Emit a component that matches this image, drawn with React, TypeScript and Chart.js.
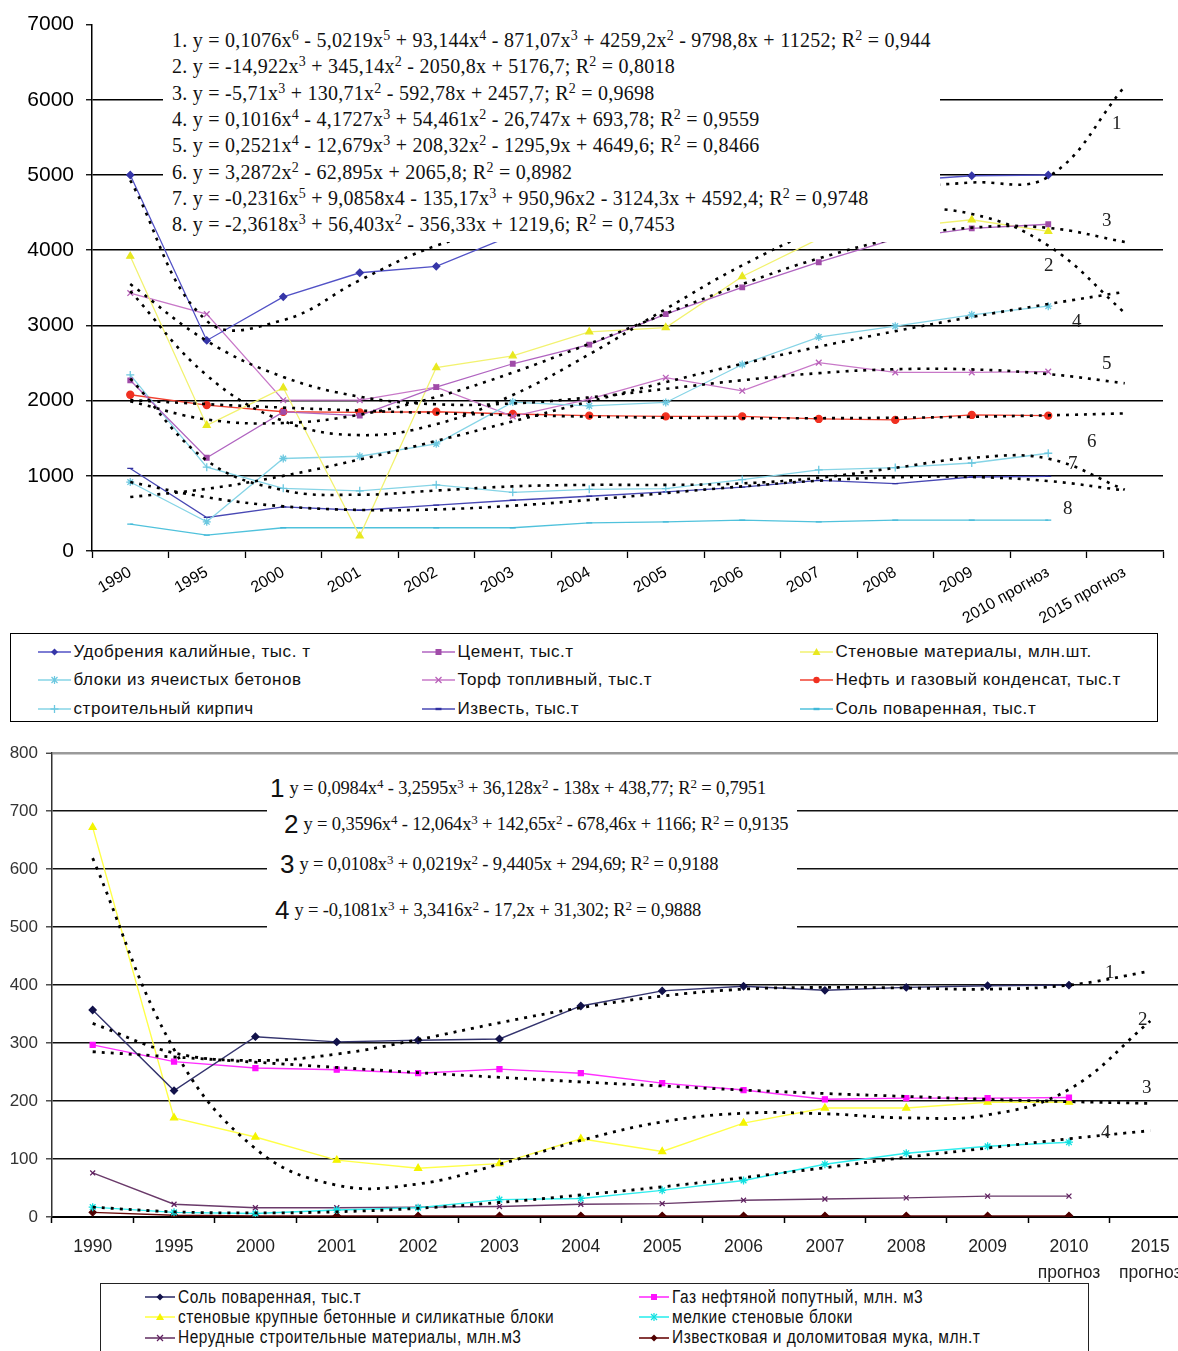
import React, { useEffect, useRef } from "react";
import Chart from "chart.js/auto";

// ---------- top chart ----------
const topLabels = [
  "1990", "1995", "2000", "2001", "2002", "2003", "2004", "2005",
  "2006", "2007", "2008", "2009", "2010 прогноз", "2015 прогноз",
];
const topYTicks = [0, 1000, 2000, 3000, 4000, 5000, 6000, 7000];

const udobreniya = [5000, 2800, 3380, 3700, 3785, 4200, 4400, 4600, 4750, 4850, 4920, 4990, 5000];
const cement = [2270, 1240, 1850, 1800, 2180, 2490, 2745, 3150, 3505, 3840, 4150, 4290, 4345];
const stenovye = [3920, 1670, 2170, 200, 2440, 2595, 2915, 2970, 3650, 4150, 4300, 4405, 4250];
const bloki = [917, 388, 1230, 1260, 1425, 1980, 1930, 1975, 2480, 2845, 2990, 3140, 3255];
const torf = [3430, 3150, 2005, 2005, 2180, 1790, 2020, 2305, 2130, 2505, 2375, 2375, 2385];
const neft = [2078, 1940, 1852, 1843, 1852, 1822, 1800, 1790, 1790, 1756, 1743, 1809, 1800];
const kirpich = [2342, 1115, 834, 800, 880, 780, 820, 830, 950, 1080, 1110, 1170, 1300];
const izvest = [1098, 446, 586, 542, 609, 675, 728, 785, 850, 940, 896, 984, 992];
const solTop = [357, 212, 309, 309, 309, 309, 375, 388, 410, 388, 410, 410, 410];

// trend lines (dotted), read along the curves incl. 2015
const topTrend1 = [4930, 3060, 3070, 3600, 4060, 4320, 4480, 4600, 4700, 4780, 4840, 4900, 4976, 6177];
const topTrend2 = [3456, 2336, 1728, 1541, 1686, 2074, 2615, 3219, 3798, 4261, 4519, 4482, 4061, 3167];
const topTrend3 = [1990, 1749, 1702, 1813, 2048, 2373, 2755, 3157, 3548, 3891, 4153, 4300, 4297, 4110];
const topTrend4 = [717, 826, 999, 1217, 1464, 1724, 1988, 2245, 2489, 2716, 2923, 3112, 3284, 3447];
const topTrend5 = [3550, 2794, 2315, 2052, 1951, 1962, 2042, 2156, 2271, 2365, 2417, 2415, 2353, 2231];
const topTrend6 = [2006, 1953, 1907, 1867, 1834, 1807, 1787, 1773, 1766, 1766, 1772, 1785, 1804, 1830];
const topTrend7 = [2293, 1204, 808, 749, 804, 859, 879, 879, 899, 973, 1106, 1239, 1228, 814];
const topTrend8 = [917, 714, 594, 546, 553, 602, 679, 770, 859, 935, 981, 984, 931, 805];

const topEquations = [
  "1. y = 0,1076x^6 - 5,0219x^5 + 93,144x^4 - 871,07x^3 + 4259,2x^2 - 9798,8x + 11252; R^2 = 0,944",
  "2. y = -14,922x^3 + 345,14x^2 - 2050,8x + 5176,7; R^2 = 0,8018",
  "3. y = -5,71x^3 + 130,71x^2 - 592,78x + 2457,7; R^2 = 0,9698",
  "4. y = 0,1016x^4 - 4,1727x^3 + 54,461x^2 - 26,747x + 693,78; R^2 = 0,9559",
  "5. y = 0,2521x^4 - 12,679x^3 + 208,32x^2 - 1295,9x + 4649,6; R^2 = 0,8466",
  "6. y = 3,2872x^2 - 62,895x + 2065,8; R^2 = 0,8982",
  "7. y = -0,2316x^5 + 9,0858x4 - 135,17x^3 + 950,96x2 - 3124,3x + 4592,4; R^2 = 0,9748",
  "8. y = -2,3618x^3 + 56,403x^2 - 356,33x + 1219,6; R^2 = 0,7453",
];

// ---------- bottom chart ----------
const bottomLabels: (string | string[])[] = [
  "1990", "1995", "2000", "2001", "2002", "2003", "2004", "2005",
  "2006", "2007", "2008", "2009", ["2010", "прогноз"], ["2015", "прогноз"],
];
const bottomYTicks = [0, 100, 200, 300, 400, 500, 600, 700, 800];

const solBottom = [357, 218, 311, 302, 305, 307, 364, 390, 398, 391, 396, 399, 400];
const gaz = [297, 268, 257, 254, 248, 255, 248, 231, 219, 203, 205, 205, 206];
const stenKrupnye = [672, 171, 138, 98, 84, 92, 135, 113, 162, 188, 188, 198, 198];
const melkieBloki = [17, 8, 6, 12, 16, 30, 32, 46, 63, 91, 110, 122, 129];
const nerudnye = [76, 22, 16, 16, 17, 18, 22, 23, 29, 31, 33, 36, 36];
const izvMuka = [8, 3, 2, 2, 2, 2, 2, 2, 2, 2, 2, 2, 2];

const bottomTrend1 = [334, 283, 270, 281, 306, 335, 361, 381, 393, 396, 395, 393, 400, 424];
const bottomTrend2 = [619, 289, 118, 55, 57, 91, 132, 164, 179, 178, 171, 176, 220, 338];
const bottomTrend3 = [285, 276, 267, 258, 249, 241, 233, 226, 219, 213, 208, 203, 199, 196];
const bottomTrend4 = [17, 9, 7, 9, 15, 25, 38, 52, 68, 85, 103, 119, 135, 149];

const bottomEquations = [
  "y = 0,0984x^4 - 3,2595x^3 + 36,128x^2 - 138x + 438,77; R^2 = 0,7951",
  "y = 0,3596x^4 - 12,064x^3 + 142,65x^2 - 678,46x + 1166; R^2 = 0,9135",
  "y = 0,0108x^3 + 0,0219x^2 - 9,4405x + 294,69; R^2 = 0,9188",
  "y = -0,1081x^3 + 3,3416x^2 - 17,2x + 31,302; R^2 = 0,9888",
];

const SANS = "'Liberation Sans', Arial, sans-serif";
const SERIF = "'Liberation Serif', 'Times New Roman', serif";

type Series = {
  label: string;
  data: number[];
  line: string;
  mark: string;
  style: string;
  radius: number;
};

const topSeries: Series[] = [
  { label: "Удобрения калийные, тыс. т", data: udobreniya, line: "#5252c6", mark: "#3636a8", style: "rectRot", radius: 3.5 },
  { label: "Цемент, тыс.т", data: cement, line: "#b064c0", mark: "#a04ca8", style: "rect", radius: 3.2 },
  { label: "Стеновые материалы, млн.шт.", data: stenovye, line: "#f2f270", mark: "#e8e820", style: "triangle", radius: 4 },
  { label: "блоки из ячеистых бетонов", data: bloki, line: "#86d4e6", mark: "#6cc8e0", style: "star", radius: 4 },
  { label: "Торф топливный, тыс.т", data: torf, line: "#c878c8", mark: "#b860b8", style: "crossRot", radius: 4 },
  { label: "Нефть и газовый конденсат, тыс.т", data: neft, line: "#f04030", mark: "#f03020", style: "circle", radius: 3.5 },
  { label: "строительный кирпич", data: kirpich, line: "#86d4e6", mark: "#6cc8e0", style: "cross", radius: 4 },
  { label: "Известь, тыс.т", data: izvest, line: "#4848b4", mark: "#3030a0", style: "line", radius: 3 },
  { label: "Соль поваренная, тыс.т", data: solTop, line: "#50c2dc", mark: "#40b8d8", style: "line", radius: 3 },
];

const bottomSeries: Series[] = [
  { label: "Соль поваренная, тыс.т", data: solBottom, line: "#34346e", mark: "#12124a", style: "rectRot", radius: 3.5 },
  { label: "Газ нефтяной попутный, млн. м3", data: gaz, line: "#ff30ff", mark: "#ff10ff", style: "rect", radius: 3.5 },
  { label: "стеновые крупные бетонные и силикатные блоки", data: stenKrupnye, line: "#ffff48", mark: "#f4f400", style: "triangle", radius: 4 },
  { label: "мелкие стеновые блоки", data: melkieBloki, line: "#30eeee", mark: "#10e0e0", style: "star", radius: 4 },
  { label: "Нерудные строительные материалы, млн.м3", data: nerudnye, line: "#6a3a6a", mark: "#602060", style: "crossRot", radius: 3.5 },
  { label: "Известковая и доломитовая мука, млн.т", data: izvMuka, line: "#6a0a0a", mark: "#500000", style: "rectRot", radius: 3.5 },
];

const seriesSet = (s: Series, width: number) => ({
  label: s.label,
  data: s.data,
  borderColor: s.line,
  backgroundColor: s.mark,
  pointBackgroundColor: s.mark,
  pointBorderColor: s.mark,
  pointStyle: s.style,
  pointRadius: s.radius,
  pointBorderWidth: 1.3,
  borderWidth: width,
  tension: 0,
  fill: false,
  order: 1,
});

const trendSet = (data: number[], width: number) => ({
  label: "trend",
  data,
  borderColor: "#000",
  borderWidth: width,
  borderDash: [3, 6],
  pointRadius: 0,
  tension: 0.4,
  fill: false,
  order: 0,
});

const TopChart: React.FC = () => {
  const chartRef = useRef<HTMLCanvasElement | null>(null);

  useEffect(() => {
    if (!chartRef.current) return;
    const chart = new Chart(chartRef.current, {
      type: "line",
      data: {
        labels: topLabels,
        datasets: [
          ...[topTrend1, topTrend2, topTrend3, topTrend4, topTrend5, topTrend6, topTrend7, topTrend8].map((t) => trendSet(t, 2.6)),
          ...topSeries.map((s) => seriesSet(s, 1.3)),
        ] as any,
      },
      options: {
        responsive: false,
        animation: false,
        events: [],
        layout: { padding: { top: 22, right: 15, left: 0, bottom: 0 } },
        plugins: { legend: { display: false }, tooltip: { enabled: false } },
        scales: {
          x: {
            offset: true,
            grid: { offset: true, drawOnChartArea: false, tickLength: 7, tickColor: "#000", tickWidth: 1.3, color: "#000" },
            border: { display: true, color: "#000", width: 1.5 },
            ticks: {
              autoSkip: false,
              minRotation: 30,
              maxRotation: 30,
              color: "#000",
              padding: 5,
              font: { family: SANS, size: 16 },
            },
            afterFit: (scale: any) => {
              scale.height = 81;
            },
          },
          y: {
            min: 0,
            max: 7000,
            afterBuildTicks: (scale: any) => {
              scale.ticks = topYTicks.map((v) => ({ value: v }));
            },
            grid: {
              color: (ctx: any) => (ctx.tick && (ctx.tick.value === 7000 || ctx.tick.value === 0) ? "rgba(0,0,0,0)" : "#000"),
              lineWidth: 1.5,
              tickLength: 6,
              tickColor: "#000",
              tickWidth: 1.3,
            },
            border: { display: true, color: "#000", width: 1.5 },
            ticks: {
              color: "#000",
              padding: 12,
              font: { family: SANS, size: 21 },
              callback: (v: any) => String(v),
            },
            afterFit: (scale: any) => {
              scale.width = 92;
            },
          },
        },
      } as any,
    });
    return () => chart.destroy();
  }, []);

  return (
    <canvas
      ref={chartRef}
      width={1178}
      height={632}
      style={{ position: "absolute", left: 0, top: 0, width: 1178, height: 632 }}
    />
  );
};

const BottomChart: React.FC = () => {
  const chartRef = useRef<HTMLCanvasElement | null>(null);

  useEffect(() => {
    if (!chartRef.current) return;
    const chart = new Chart(chartRef.current, {
      type: "line",
      data: {
        labels: bottomLabels,
        datasets: [
          ...[bottomTrend1, bottomTrend2, bottomTrend3, bottomTrend4].map((t) => trendSet(t, 2.8)),
          ...bottomSeries.map((s) => seriesSet(s, 1.4)),
        ] as any,
      },
      options: {
        responsive: false,
        animation: false,
        events: [],
        layout: { padding: { top: 17, right: 29, left: 0, bottom: 0 } },
        plugins: { legend: { display: false }, tooltip: { enabled: false } },
        scales: {
          x: {
            offset: true,
            grid: { offset: true, drawOnChartArea: false, tickLength: 6, tickColor: "#000", tickWidth: 1.5, color: "#000" },
            border: { display: true, color: "#000", width: 2 },
            ticks: {
              autoSkip: false,
              maxRotation: 0,
              color: "#222",
              padding: 11,
              font: { family: SANS, size: 17.5, lineHeight: 1.5 },
            },
            afterFit: (scale: any) => {
              scale.height = 66;
            },
          },
          y: {
            min: 0,
            max: 800,
            afterBuildTicks: (scale: any) => {
              scale.ticks = bottomYTicks.map((v) => ({ value: v }));
            },
            grid: {
              color: (ctx: any) =>
                ctx.tick && ctx.tick.value === 800 ? "#9a9a9a" : ctx.tick && ctx.tick.value === 0 ? "rgba(0,0,0,0)" : "#111",
              lineWidth: (ctx: any) => (ctx.tick && ctx.tick.value === 800 ? 2.5 : 1.6),
              tickLength: 6,
              tickColor: "#333",
              tickWidth: 1.3,
            },
            border: { display: true, color: "#333", width: 1.5 },
            ticks: { color: "#333", padding: 8, font: { family: SANS, size: 17 } },
            afterFit: (scale: any) => {
              scale.width = 52;
            },
          },
        },
      } as any,
    });
    return () => chart.destroy();
  }, []);

  return (
    <canvas
      ref={chartRef}
      width={1220}
      height={548}
      style={{ position: "absolute", left: 0, top: 735, width: 1220, height: 548 }}
    />
  );
};

const renderEq = (s: string) =>
  s.split(/(\^\d)/).map((part, i) =>
    part.startsWith("^") ? (
      <sup key={i} style={{ fontSize: "0.7em", verticalAlign: "0.5em", lineHeight: 0 }}>
        {part.slice(1)}
      </sup>
    ) : (
      <span key={i}>{part}</span>
    )
  );

const Marker: React.FC<{ kind: string; color: string; cx: number; cy: number }> = ({ kind, color, cx, cy }) => {
  const r = 3.5;
  switch (kind) {
    case "rectRot":
      return <polygon points={`${cx},${cy - r} ${cx + r},${cy} ${cx},${cy + r} ${cx - r},${cy}`} fill={color} />;
    case "rect":
      return <rect x={cx - 3} y={cy - 3} width={6} height={6} fill={color} />;
    case "triangle":
      return <polygon points={`${cx},${cy - 4} ${cx + 4},${cy + 3} ${cx - 4},${cy + 3}`} fill={color} />;
    case "circle":
      return <circle cx={cx} cy={cy} r={3.2} fill={color} />;
    case "cross":
      return (
        <g stroke={color} strokeWidth={1.3}>
          <line x1={cx} y1={cy - 4} x2={cx} y2={cy + 4} />
          <line x1={cx - 4} y1={cy} x2={cx + 4} y2={cy} />
        </g>
      );
    case "crossRot":
      return (
        <g stroke={color} strokeWidth={1.3}>
          <line x1={cx - 3} y1={cy - 3} x2={cx + 3} y2={cy + 3} />
          <line x1={cx - 3} y1={cy + 3} x2={cx + 3} y2={cy - 3} />
        </g>
      );
    case "star":
      return (
        <g stroke={color} strokeWidth={1.2}>
          <line x1={cx - 3} y1={cy - 3} x2={cx + 3} y2={cy + 3} />
          <line x1={cx - 3} y1={cy + 3} x2={cx + 3} y2={cy - 3} />
          <line x1={cx} y1={cy - 4} x2={cx} y2={cy + 4} />
        </g>
      );
    default:
      return <line x1={cx - 3} y1={cy} x2={cx + 3} y2={cy} stroke={color} strokeWidth={2.4} />;
  }
};

const LegendIcon: React.FC<{ s: Series; w: number }> = ({ s, w }) => (
  <svg width={w} height={12} style={{ display: "block", flex: "none" }}>
    <line x1={0} y1={6} x2={w} y2={6} stroke={s.line} strokeWidth={1.6} />
    <Marker kind={s.style} color={s.mark} cx={w / 2} cy={6} />
  </svg>
);

// icon left edges inside the legend boxes
const topColX = [26.5, 410.5, 788.5];
const bottomColX = [44, 538];

export default function App() {
  return (
    <div
      style={{
        position: "absolute",
        left: 0,
        top: 0,
        width: 1178,
        height: 1351,
        overflow: "hidden",
        background: "#fff",
      }}
    >
      <TopChart />

      {/* equation box of the top chart */}
      <div
        style={{
          position: "absolute",
          left: 163,
          top: 22,
          width: 777,
          height: 220,
          background: "#fff",
          fontFamily: SERIF,
          fontSize: 20,
          letterSpacing: 0.25,
          color: "#111",
        }}
      >
        {topEquations.map((eq, i) => (
          <div
            key={i}
            style={{ position: "absolute", left: 9, top: 5 + i * 26.3, height: 26, lineHeight: "26px", whiteSpace: "nowrap" }}
          >
            {renderEq(eq)}
          </div>
        ))}
      </div>

      {/* trend numbers, top */}
      {[
        ["1", 1118, 123],
        ["3", 1108, 220],
        ["2", 1050, 265],
        ["4", 1078, 321],
        ["5", 1108, 363],
        ["6", 1093, 441],
        ["7", 1074, 463],
        ["8", 1069, 508],
      ].map(([t, x, y]) => (
        <div
          key={"tt" + t}
          style={{
            position: "absolute",
            left: (x as number) - 6,
            top: (y as number) - 11,
            fontFamily: SERIF,
            fontSize: 19,
            lineHeight: "22px",
            color: "#222",
          }}
        >
          {t}
        </div>
      ))}

      {/* top legend */}
      <div
        style={{
          position: "absolute",
          left: 10,
          top: 633,
          width: 1146,
          height: 87,
          border: "1.5px solid #000",
          background: "#fff",
        }}
      >
        {topSeries.map((s, i) => {
          const col = i % 3;
          const row = Math.floor(i / 3);
          return (
            <div
              key={s.label}
              style={{
                position: "absolute",
                left: topColX[col],
                top: 7 + row * 28.3,
                height: 22,
                display: "flex",
                alignItems: "center",
                fontFamily: SANS,
                fontSize: 17,
                letterSpacing: 0.55,
                color: "#111",
                whiteSpace: "nowrap",
              }}
            >
              <LegendIcon s={s} w={33} />
              <span style={{ marginLeft: 3 }}>{s.label}</span>
            </div>
          );
        })}
      </div>

      <BottomChart />

      {/* equation box of the bottom chart */}
      <div
        style={{
          position: "absolute",
          left: 267,
          top: 765,
          width: 530,
          height: 180,
          background: "#fff",
          color: "#111",
        }}
      >
        {bottomEquations.map((eq, i) => {
          const nx = [3, 17, 13, 8][i];
          const cy = [788, 824, 864, 910][i] - 765;
          return (
            <div
              key={i}
              style={{ position: "absolute", left: nx, top: cy - 15, height: 30, display: "flex", alignItems: "center", whiteSpace: "nowrap" }}
            >
              <span style={{ fontFamily: SANS, fontSize: 26, marginRight: 5 }}>{i + 1}</span>
              <span style={{ fontFamily: SERIF, fontSize: 18.5, letterSpacing: -0.15 }}>{renderEq(eq)}</span>
            </div>
          );
        })}
      </div>

      {/* trend numbers, bottom */}
      {[
        ["1", 1111, 972],
        ["2", 1144, 1019],
        ["3", 1148, 1087],
        ["4", 1107, 1132],
      ].map(([t, x, y]) => (
        <div
          key={"bt" + t}
          style={{
            position: "absolute",
            left: (x as number) - 6,
            top: (y as number) - 11,
            fontFamily: SERIF,
            fontSize: 19,
            lineHeight: "22px",
            color: "#222",
          }}
        >
          {t}
        </div>
      ))}

      {/* bottom legend */}
      <div
        style={{
          position: "absolute",
          left: 100,
          top: 1283,
          width: 987,
          height: 90,
          border: "1.5px solid #222",
          background: "#fff",
        }}
      >
        {bottomSeries.map((s, i) => {
          const col = i % 2;
          const row = Math.floor(i / 2);
          return (
            <div
              key={s.label}
              style={{
                position: "absolute",
                left: bottomColX[col],
                top: 3 + row * 20.3,
                height: 20,
                display: "flex",
                alignItems: "center",
                whiteSpace: "nowrap",
              }}
            >
              <LegendIcon s={s} w={30} />
              <span
                style={{
                  marginLeft: 3,
                  fontFamily: SANS,
                  fontSize: 18,
                  letterSpacing: 0.6,
                  color: "#111",
                  display: "inline-block",
                  transform: "scaleX(0.86)",
                  transformOrigin: "left center",
                }}
              >
                {s.label}
              </span>
            </div>
          );
        })}
      </div>
    </div>
  );
}
